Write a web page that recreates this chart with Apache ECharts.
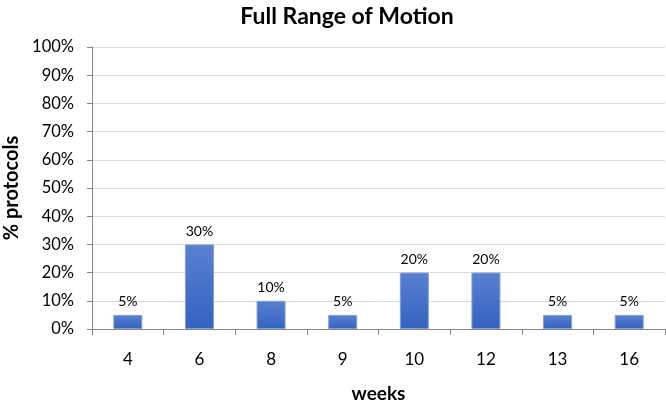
<!DOCTYPE html>
<html>
<head>
<meta charset="utf-8">
<script src="https://cdn.jsdelivr.net/npm/echarts@6/dist/echarts.min.js"></script>
<style>html,body{margin:0;padding:0;background:#fff;}#c{width:666px;height:407px;}</style>
</head>
<body>
<div id="c"></div>
<script>
const categories = ['4', '6', '8', '9', '10', '12', '13', '16'];
const values = [5, 30, 10, 5, 20, 20, 5, 5];
const yTicks = [0, 10, 20, 30, 40, 50, 60, 70, 80, 90, 100];

const chart = echarts.init(document.getElementById('c'), null, {renderer: 'canvas'});
const FONT = 'Lato, "Open Sans", sans-serif';
chart.setOption({
  animation: false,
  title: {
    text: 'Full Range of Motion',
    left: 342, top: 0, textAlign: 'center',
    textStyle: {fontFamily: FONT, fontWeight: 'bold', fontSize: 23, color: '#000'}
  },
  grid: {left: 92, right: 1, top: 47, bottom: 78, containLabel: false, outerBoundsMode: 'none'},
  xAxis: {
    type: 'category',
    data: categories,
    name: 'weeks',
    nameLocation: 'middle',
    nameGap: 55,
    nameTextStyle: {fontFamily: FONT, fontWeight: 'bold', fontSize: 19, color: '#000'},
    axisLine: {lineStyle: {color: '#868686', width: 1}},
    axisTick: {show: true, alignWithLabel: false, length: 6, lineStyle: {color: '#868686'}},
    axisLabel: {fontFamily: FONT, fontSize: 17, color: '#000', margin: 22}
  },
  yAxis: {
    type: 'value',
    min: yTicks[0], max: yTicks[yTicks.length - 1], interval: 10,
    name: '% protocols',
    nameLocation: 'middle',
    nameGap: 67,
    nameRotate: 90,
    nameTextStyle: {fontFamily: FONT, fontWeight: 'bold', fontSize: 20, color: '#000'},
    axisLine: {show: true, lineStyle: {color: '#868686', width: 1}},
    axisTick: {show: true, length: 5, lineStyle: {color: '#868686'}},
    axisLabel: {fontFamily: FONT, fontSize: 16.5, color: '#000', margin: 18, formatter: v => v + '%'},
    splitLine: {show: true, lineStyle: {color: '#d9d9d9', width: 1}}
  },
  series: [{
    type: 'bar',
    data: values,
    barWidth: 29,
    itemStyle: {
      color: new echarts.graphic.LinearGradient(0, 0, 0, 1, [
        {offset: 0, color: '#5b80d0'},
        {offset: 1, color: '#3362c0'}
      ]),
      borderColor: '#7f9fe0',
      borderWidth: 1
    },
    label: {
      show: true, position: 'top', distance: 6,
      fontFamily: FONT, fontSize: 14, color: '#000',
      formatter: p => p.value + '%'
    }
  }]
});
</script>
</body>
</html>
